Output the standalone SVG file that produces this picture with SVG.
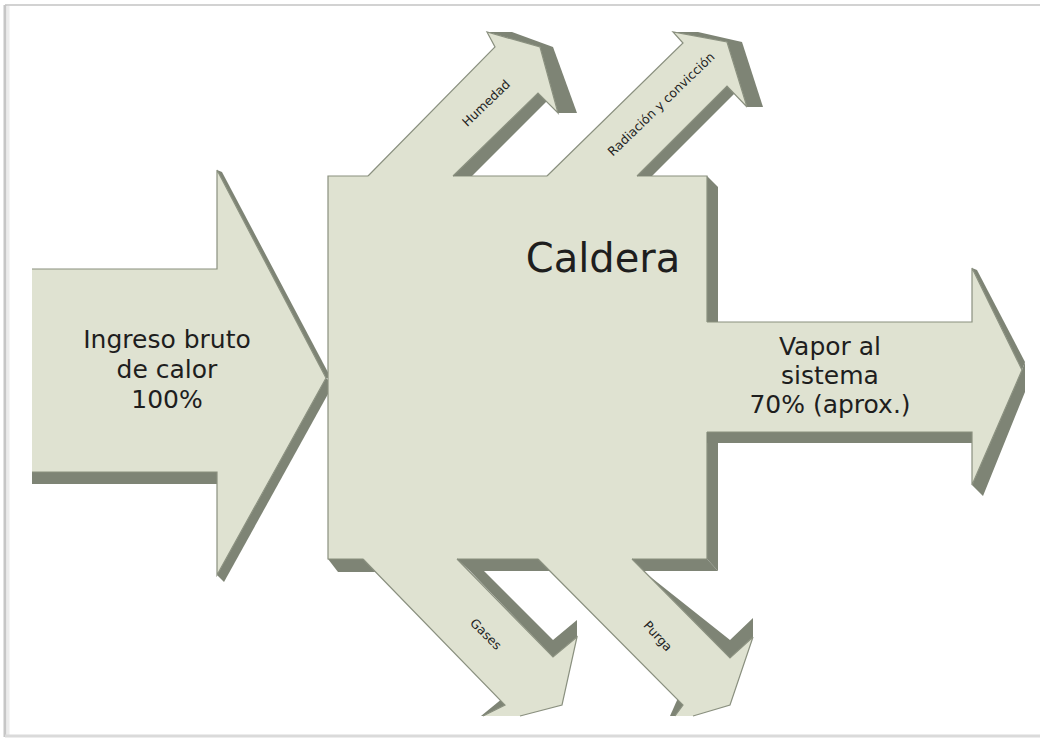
<svg xmlns="http://www.w3.org/2000/svg" width="1040" height="740" viewBox="0 0 1040 740">
<style>
.face{fill:#dfe2d1;stroke:none}
.edge{fill:none;stroke:#8a907f;stroke-width:1.2;stroke-linejoin:miter}
.side{fill:#7e8475}
.lbl{font-family:"DejaVu Sans",Verdana,sans-serif;fill:#1e1e1e;text-anchor:middle}
.big{font-size:25px}
.small{font-size:12.5px}
</style>
<rect x="0" y="0" width="1040" height="740" fill="#ffffff"/>
<g id="frame">
<line x1="5" y1="5" x2="1040" y2="5" stroke="#d2d2d2" stroke-width="2"/>
<line x1="5" y1="5" x2="5" y2="737" stroke="#c6c6c6" stroke-width="3"/>
<line x1="8" y1="6" x2="8" y2="736" stroke="#ececec" stroke-width="3"/>
<line x1="5" y1="736" x2="1040" y2="736" stroke="#dadada" stroke-width="3"/>
</g>
<g id="connectors"></g>
<g id="ingreso">
<polygon class="side" points="32,472 217,472 217,484 32,484"/>
<polygon class="side" points="326,378 333,385 224,582 217,575"/>
<polygon class="side" points="217,170 222,172 331,378 326,378"/>
<polygon class="face" points="32,269 217,269 217,170 326,378 217,575 217,472 32,472"/>
<polyline class="edge" points="32,269 217,269 217,170 326,378 217,575 217,472 32,472"/>
<text class="lbl big" x="167" y="348">Ingreso bruto</text>
<text class="lbl big" x="167" y="378">de calor</text>
<text class="lbl big" x="167" y="408">100%</text>
</g>
<g id="caldera">
<polygon class="side" points="707,176 718,187 718,323 707,323"/>
<polygon class="side" points="707,440 718,443 718,571 707,559"/>
<polygon class="side" points="632,559 707,559 718,571 643,571"/>
<polygon class="side" points="457,559 538,559 550,571 470,571"/>
<polygon class="side" points="328,559 363,559 376,572 338,572"/>
<rect class="face" x="328" y="176" width="379" height="383"/>
<path class="edge" d="M368,176 H328 V559 H363 M457,559 H538 M632,559 H707 V432 M707,322 V176 H637 M547,176 H453"/>
<text class="lbl" x="603" y="272" font-size="40">Caldera</text>
</g>
<g id="vapor">
<polygon class="side" points="707,432 972,432 972,443 707,443"/>
<polygon class="side" points="972,268 977,270 1025,362 1022,370"/>
<polygon class="side" points="1022,370 1025,362 1025,392 983,496 972,485"/>
<polygon class="face" points="705,322 972,322 972,268 1022,370 972,485 972,432 705,432"/>
<polyline class="edge" points="707,322 972,322 972,268 1022,370 972,485 972,432 707,432"/>
<text class="lbl big" x="830" y="355">Vapor al</text>
<text class="lbl big" x="830" y="384">sistema</text>
<text class="lbl big" x="830" y="413">70% (aprox.)</text>
</g>
<g id="humedad">
<polygon class="side" points="487,32 512,32 553,47 540,47"/>
<polygon class="side" points="540,47 553,47 577,113 558,113"/>
<polygon class="side" points="453,176 538,93 548,100 472,176"/>
<polygon class="face" points="368,178 368,176 495,47 487,32 540,47 558,113 538,93 453,176 453,178"/>
<polyline class="edge" points="368,176 495,47 487,32 540,47 558,113 538,93 453,176"/>
<text class="lbl small" transform="translate(486,103) rotate(-44)" y="4.5">Humedad</text>
</g>
<g id="radiacion">
<polygon class="side" points="673,32 698,32 742,42 727,42"/>
<polygon class="side" points="727,42 742,42 763,107 747,107"/>
<polygon class="side" points="637,176 727,86 735,93 652,176"/>
<polygon class="face" points="547,178 547,176 683,43 673,32 727,42 747,107 727,86 637,176 637,178"/>
<polyline class="edge" points="547,176 683,43 673,32 727,42 747,107 727,86 637,176"/>
<text class="lbl small" transform="translate(661,104) rotate(-44)" y="4.5">Radiación y convicción</text>
</g>
<g id="gases">
<polygon class="side" points="470,571 484,571 553,640 577,620 577,637 553,657"/>
<polygon class="side" points="481,716 503,698 507,704 487,716"/>
<polygon class="face" points="363,557 363,559 505,705 483,716 520,716 562,705 577,637 553,657 457,559 457,557"/>
<path class="edge" d="M363,559 L505,705 483,716 M520,716 L562,705 577,637 553,657 457,559"/>
<text class="lbl small" transform="translate(486,634) rotate(45)" y="4.5">Gases</text>
</g>
<g id="purga">
<polygon class="side" points="632,559 643,571 730,640 753,618 753,637 730,658"/>
<polygon class="side" points="670,716 678,698 683,705 676,716"/>
<polygon class="face" points="538,557 538,559 683,705 675,716 693,716 730,705 753,637 730,658 632,559 632,557"/>
<path class="edge" d="M538,559 L683,705 675,716 M693,716 L730,705 753,637 730,658 632,559"/>
<text class="lbl small" transform="translate(658,636) rotate(48)" y="4.5">Purga</text>
</g>
</svg>
